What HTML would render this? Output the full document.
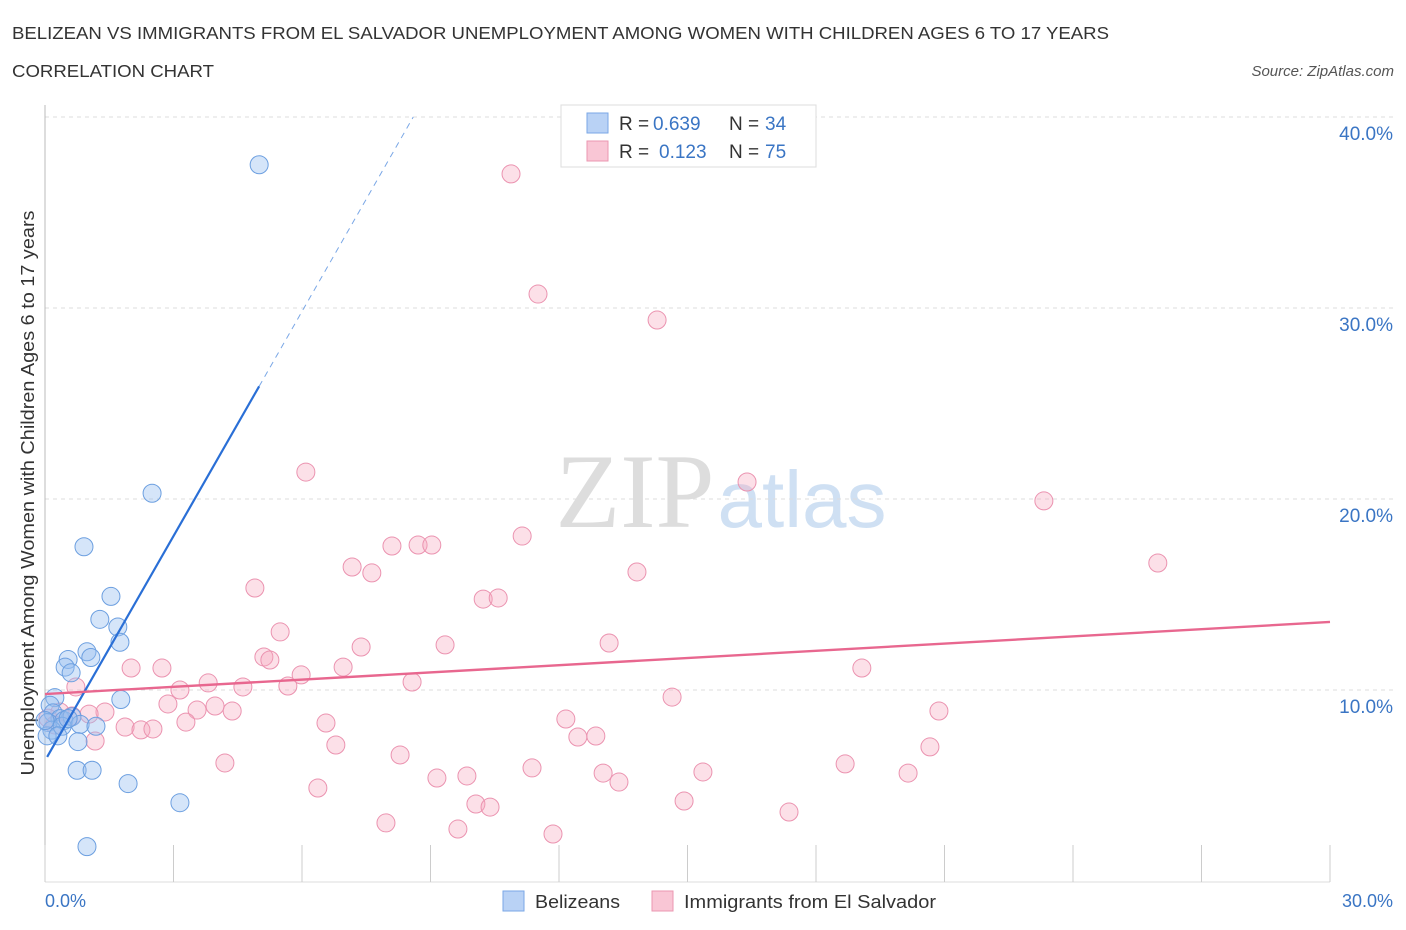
<!DOCTYPE html>
<html><head><meta charset="utf-8"><style>
body{margin:0;background:#fff;font-family:"Liberation Sans",sans-serif;}
svg{display:block}
</style></head><body>
<svg id="chart" width="1406" height="930" xmlns="http://www.w3.org/2000/svg">
<text x="12" y="39" font-size="17.5" fill="#333" textLength="1097" lengthAdjust="spacingAndGlyphs">BELIZEAN VS IMMIGRANTS FROM EL SALVADOR UNEMPLOYMENT AMONG WOMEN WITH CHILDREN AGES 6 TO 17 YEARS</text>
<text x="12" y="77" font-size="17.5" fill="#333" textLength="202" lengthAdjust="spacingAndGlyphs">CORRELATION CHART</text>
<text x="1394" y="76" font-size="15" fill="#555" font-style="italic" text-anchor="end">Source: ZipAtlas.com</text>
<g>
<text x="635" y="527" font-size="106" fill="#ddd" font-family="Liberation Serif,serif" text-anchor="middle">ZIP</text>
<text x="802" y="527" font-size="80" fill="#cfe0f3" text-anchor="middle">atlas</text>
</g>
<g id="grid"></g>
<line x1="45" y1="105" x2="45" y2="882" stroke="#bbb"/>
<line x1="45" y1="882" x2="1330" y2="882" stroke="#ddd"/>
<g id="xticks"></g>
<text transform="translate(34,493) rotate(-90)" font-size="18" fill="#333" text-anchor="middle" textLength="565" lengthAdjust="spacingAndGlyphs">Unemployment Among Women with Children Ages 6 to 17 years</text>
<text x="45" y="907" font-size="18" fill="#3a75c4">0.0%</text>
<text x="1393" y="907" font-size="18" fill="#3a75c4" text-anchor="end">30.0%</text>
<g id="pts"></g>
<g id="lines"></g>
<g>
<rect x="561" y="105" width="255" height="62" fill="#fff" stroke="#ddd"/>
<rect x="587" y="113" width="21" height="20" fill="#b9d2f5" stroke="#7aa7e6"/>
<rect x="587" y="141" width="21" height="20" fill="#f9c6d5" stroke="#eb97b1"/>
<text x="619" y="130" font-size="19" fill="#333">R = <tspan x="653" fill="#3a75c4">0.639</tspan><tspan x="729">N = </tspan><tspan x="765" fill="#3a75c4">34</tspan></text>
<text x="619" y="158" font-size="19" fill="#333">R = <tspan x="659" fill="#3a75c4">0.123</tspan><tspan x="729">N = </tspan><tspan x="765" fill="#3a75c4">75</tspan></text>
</g>
<g>
<rect x="503" y="891" width="21" height="20" fill="#b9d2f5" stroke="#7aa7e6"/>
<text x="535" y="908" font-size="18.5" fill="#333" textLength="85" lengthAdjust="spacingAndGlyphs">Belizeans</text>
<rect x="652" y="891" width="21" height="20" fill="#f9c6d5" stroke="#eb97b1"/>
<text x="684" y="908" font-size="18.5" fill="#333" textLength="252" lengthAdjust="spacingAndGlyphs">Immigrants from El Salvador</text>
</g>
</svg>
<script>
const yTicks=[10,20,30,40];
const yTickLabels=["10.0%","20.0%","30.0%","40.0%"];
const xTicks=[0,3,6,9,12,15,18,21,24,27,30];
const blueX=[5.0,2.5,0.91,1.54,1.28,1.70,1.75,0.98,1.07,0.54,0.47,0.61,0.23,1.77,0.12,0.19,0.35,0.44,0.63,0.07,0.16,0.40,0.82,1.19,0.77,0.75,1.10,1.94,3.15,0.98,0.05,0.30,0.54,0.0];
const blueY=[37.5,20.3,17.5,14.9,13.7,13.3,12.5,12.0,11.7,11.6,11.2,10.9,9.6,9.5,9.2,8.8,8.5,8.4,8.6,8.3,7.9,8.1,8.2,8.1,7.3,5.8,5.8,5.1,4.1,1.8,7.6,7.6,8.5,8.4];
const pinkX=[10.88,11.51,14.29,6.09,16.39,23.32,11.14,8.10,8.71,9.03,25.98,7.17,7.63,13.82,4.90,10.23,10.58,5.49,13.17,9.34,7.38,2.01,2.73,6.96,19.07,5.11,5.25,5.98,3.15,3.81,4.62,5.67,8.57,14.64,2.87,3.55,3.97,4.37,0.72,1.40,1.03,20.87,3.29,1.87,2.24,2.52,6.56,12.16,1.17,6.79,12.44,12.86,20.66,8.29,4.20,11.37,18.68,15.36,13.03,20.15,9.15,9.85,13.40,6.37,14.92,10.06,10.39,17.37,7.96,9.64,11.86,0.35,0.63,0.07,0.23];
const pinkY=[37.02,30.73,29.37,21.41,20.89,19.90,18.06,17.54,17.59,17.59,16.65,16.44,16.13,16.18,15.34,14.76,14.82,13.04,12.46,12.36,12.25,11.15,11.15,11.20,11.15,11.73,11.57,10.79,10.00,10.37,10.16,10.21,10.42,9.63,9.27,8.95,9.16,8.90,10.16,8.85,8.74,8.90,8.32,8.06,7.91,7.96,8.27,8.48,7.33,7.12,7.54,7.59,7.02,6.60,6.18,5.92,6.13,5.71,5.65,5.65,5.39,5.50,5.18,4.87,4.19,4.03,3.87,3.61,3.04,2.72,2.46,8.85,8.64,8.53,8.17];
const blueFit=[6.3,3.92];   // intercept, slope
const pinkFit=[9.79,0.1257];
const NS="http://www.w3.org/2000/svg";
const sx=v=>45+v/30*1285;
const sy=v=>881-v*19.1;
function mk(tag,attrs,parent){const e=document.createElementNS(NS,tag);for(const k in attrs)e.setAttribute(k,attrs[k]);document.getElementById(parent).appendChild(e);return e;}
yTicks.forEach((t,i)=>{
  const l=mk('line',{x1:45,x2:1395,y1:sy(t),y2:sy(t),stroke:'#ddd','stroke-dasharray':'4,4'},'grid');
  
  
  const tx=mk('text',{x:1393,y:sy(t)+23,'font-size':19,fill:'#3a75c4','text-anchor':'end'},'grid');
  tx.textContent=yTickLabels[i];
  
  
});
xTicks.forEach(t=>{
  const l=mk('line',{x1:sx(t),x2:sx(t),y1:845,y2:882,stroke:'#ccc'},'xticks');
  
  
});
pinkX.forEach((x,i)=>{
  const c=mk('circle',{cx:sx(x),cy:sy(pinkY[i]),r:9,fill:'rgba(245,165,190,0.35)',stroke:'#eb93b0','stroke-width':1},'pts');
  
  
});
blueX.forEach((x,i)=>{
  const c=mk('circle',{cx:sx(x),cy:sy(blueY[i]),r:9,fill:'rgba(150,190,240,0.4)',stroke:'#6c9fe0','stroke-width':1},'pts');
  
  
});
const bx0=0.05,bx1=5.0,bx2=(40-blueFit[0])/blueFit[1];
const bl=mk('line',{x1:sx(bx0),y1:sy(blueFit[0]+blueFit[1]*bx0),x2:sx(bx1),y2:sy(blueFit[0]+blueFit[1]*bx1),stroke:'#2a6fd6','stroke-width':2.2},'lines');


const bd=mk('line',{x1:sx(bx1),y1:sy(blueFit[0]+blueFit[1]*bx1),x2:sx(bx2),y2:sy(40),stroke:'#7aa7e6','stroke-width':1,'stroke-dasharray':'6,5'},'lines');


const pl=mk('line',{x1:sx(0),y1:sy(pinkFit[0]),x2:sx(30),y2:sy(pinkFit[0]+pinkFit[1]*30),stroke:'#e8678f','stroke-width':2.4},'lines');


</script>
</body></html>
